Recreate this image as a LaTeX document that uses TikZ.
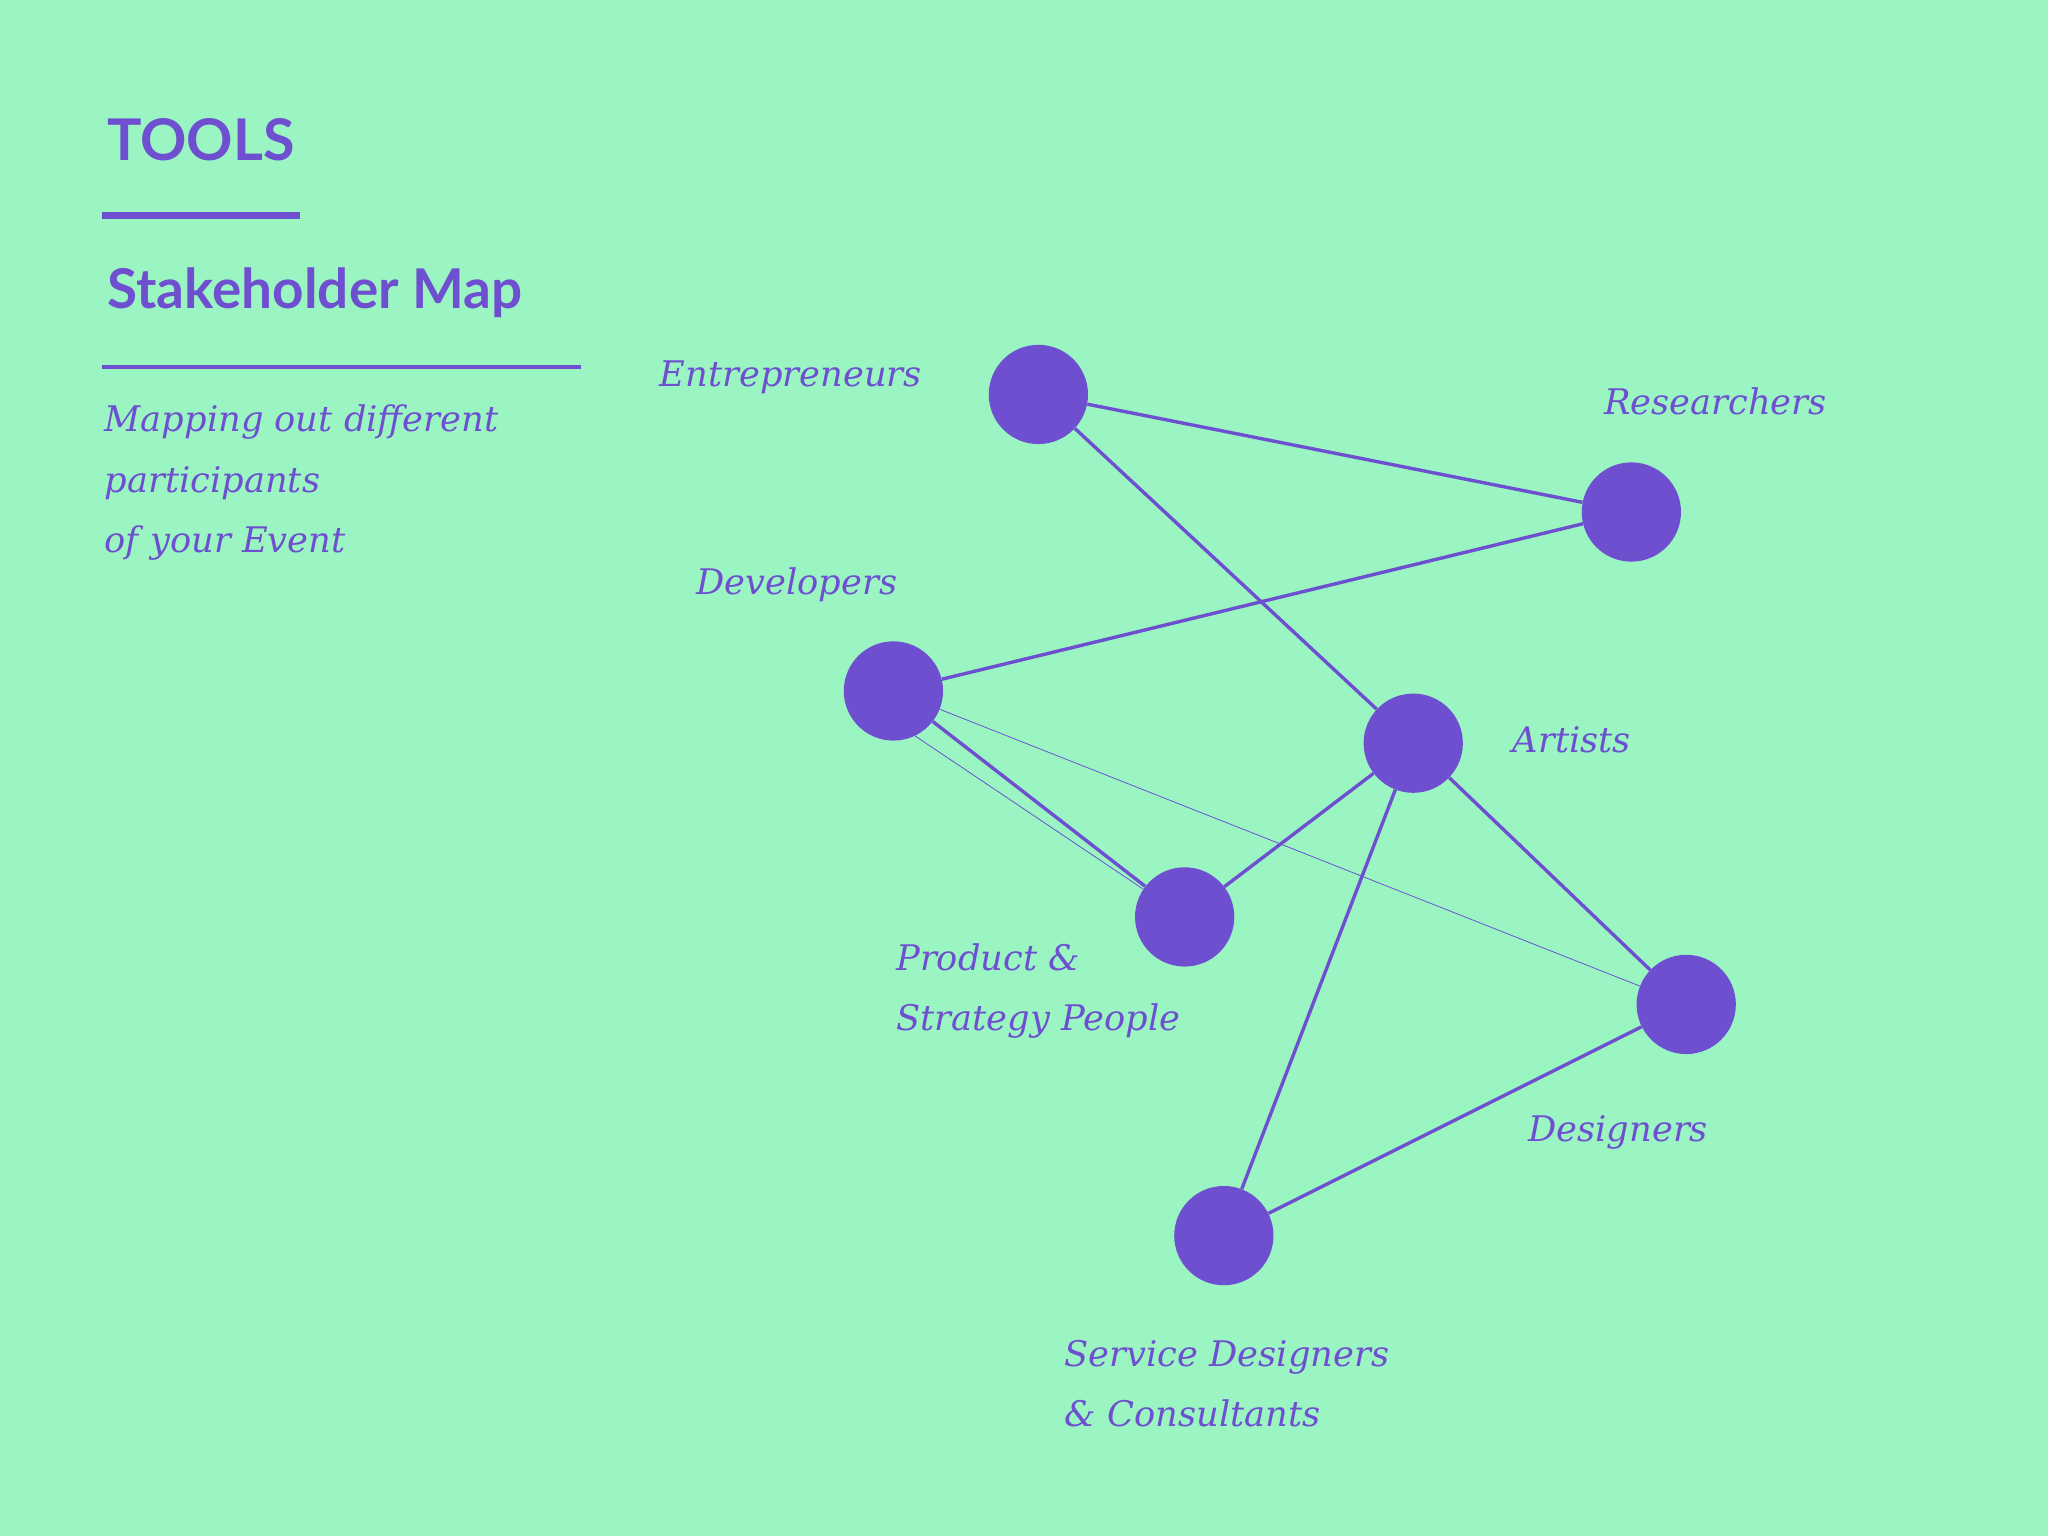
\documentclass[tikz,border=0pt]{standalone}
\usepackage{fontspec}
\setmainfont{DejaVu Serif}
\newfontfamily\headfont{Lato}
\definecolor{bg}{HTML}{9AF5C3}
\definecolor{pur}{HTML}{6E4FD0}
\begin{document}
\begin{tikzpicture}[x=1pt,y=-1pt,
  dot/.style={circle,fill=pur,minimum size=76pt,inner sep=0pt},
  lab/.style={anchor=west,text=pur,font=\fontsize{27}{46}\selectfont\itshape,inner sep=0pt,align=left},
  edge/.style={pur,line width=2.6pt},
  thin/.style={pur,line width=0.6pt}]
\fill[bg] (0,0) rectangle (1568,1176);
\useasboundingbox (0,0) rectangle (1568,1176);
\node[anchor=west,inner sep=0pt,text=pur,font=\headfont\bfseries\fontsize{44}{50}\selectfont] (t1) at (82,107) {TOOLS};
\node[anchor=west,inner sep=0pt,text=pur,font=\headfont\bfseries\fontsize{42}{50}\selectfont] (t2) at (82,224) {Stakeholder Map};
\draw[pur,line width=5pt] (78,165) -- (230,165);
\draw[pur,line width=3pt] (78,281) -- (445,281);
\node[lab,anchor=north west] (sub) at (80,310) {Mapping out different\\participants\\of your Event};
\node[dot] (E) at (795,302) {};
\node[dot] (R) at (1249,392) {};
\node[dot] (D) at (684,529) {};
\node[dot] (A) at (1082,569) {};
\node[dot] (P) at (907,702) {};
\node[dot] (G) at (1291,769) {};
\node[dot] (S) at (937,946) {};
\begin{scope}[on background layer/.style={}]
\end{scope}
\draw[thin] (D) -- (G);
\draw[thin] (D.center) ++(10,30) coordinate (d2) -- (P);
\draw[edge] (E) -- (R);
\draw[edge] (E) -- (A);
\draw[edge] (R) -- (D);
\draw[edge] (D) -- (P);
\draw[edge] (P) -- (A);
\draw[edge] (A) -- (G);
\draw[edge] (A) -- (S);
\draw[edge] (G) -- (S);
\node[lab] (lE) at (505,289) {Entrepreneurs};
\node[lab] (lR) at (1228,307) {Researchers};
\node[lab] (lD) at (533,448) {Developers};
\node[lab] (lA) at (1158,566) {Artists};
\node[lab,anchor=north west] (lP) at (686,722) {Product \&\\Strategy People};
\node[lab] (lG) at (1170,867) {Designers};
\node[lab,anchor=north west] (lS) at (815,1026) {Service Designers\\\& Consultants};
\end{tikzpicture}
\end{document}
